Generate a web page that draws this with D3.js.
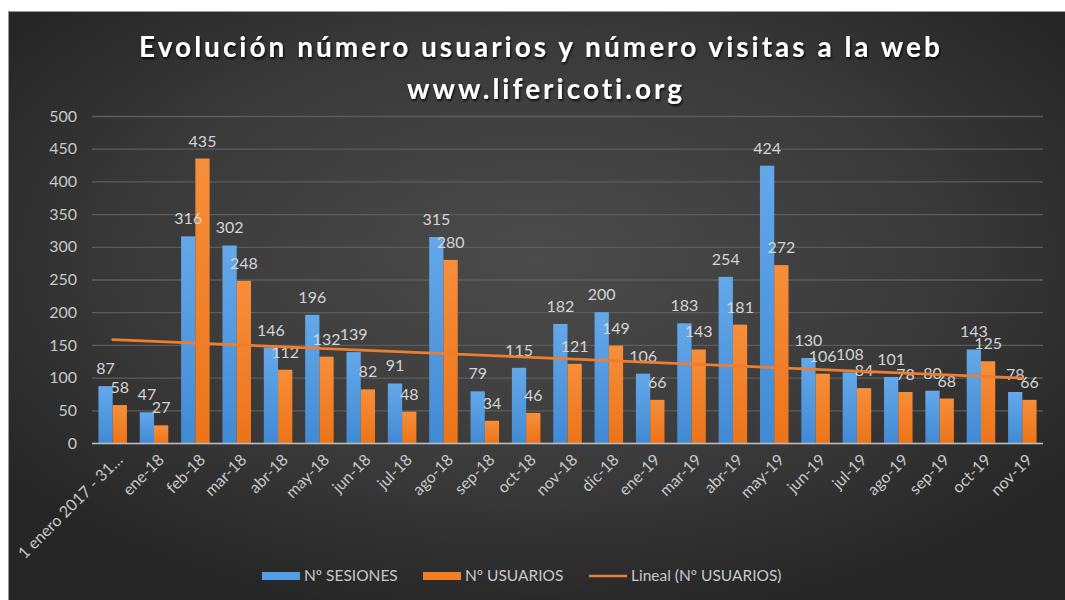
<!DOCTYPE html>
<html>
<head>
<meta charset="utf-8">
<script src="https://cdn.jsdelivr.net/npm/d3@7"></script>
<style>
    html, body { margin: 0; padding: 0; background: #ffffff; }
    svg { display: block; }
</style>
</head>
<body>
<div id="chart"></div>
<script>

// data

var categories = [ '1 enero 2017 - 31\u2026', 'ene-18', 'feb-18', 'mar-18', 'abr-18', 'may-18', 'jun-18',
    'jul-18', 'ago-18', 'sep-18', 'oct-18', 'nov-18', 'dic-18', 'ene-19', 'mar-19', 'abr-19',
    'may-19', 'jun-19', 'jul-19', 'ago-19', 'sep-19', 'oct-19', 'nov-19' ];

var sesiones = [ 87, 47, 316, 302, 146, 196, 139, 91, 315, 79, 115, 182, 200, 106, 183, 254, 424, 130, 108, 101, 80, 143, 78 ];

var usuarios = [ 58, 27, 435, 248, 112, 132, 82, 48, 280, 34, 46, 121, 149, 66, 143, 181, 272, 106, 84, 78, 68, 125, 66 ];

var yTicks = [ 0, 50, 100, 150, 200, 250, 300, 350, 400, 450, 500 ];

var seriesNames = [ 'N\u00BA SESIONES', 'N\u00BA USUARIOS' ];
var trendName = 'Lineal (N\u00BA USUARIOS)';

var width = 1065,
    height = 600,
    margin = { top: 116, right: 22, bottom: 157, left: 92 };

var font = 'Lato, "Open Sans", sans-serif';
var textColor = '#c8c8c8';
var blue = '#559de4',
    orange = '#f27f24';

var svg = d3.select('#chart').append('svg')
    .attr('width', width)
    .attr('height', height);

/* background */

var defs = svg.append('defs');

var bg = defs.append('radialGradient')
    .attr('id', 'bg')
    .attr('cx', '0.5').attr('cy', '0.42')
    .attr('r', '0.62');
bg.append('stop').attr('offset', '0').attr('stop-color', '#4b4b4b');
bg.append('stop').attr('offset', '0.6').attr('stop-color', '#3a3a3a');
bg.append('stop').attr('offset', '1').attr('stop-color', '#262626');

var gBlue = defs.append('linearGradient').attr('id', 'gblue')
    .attr('x1', 0).attr('y1', 0).attr('x2', 0).attr('y2', 1);
gBlue.append('stop').attr('offset', '0').attr('stop-color', '#64a8ea');
gBlue.append('stop').attr('offset', '1').attr('stop-color', '#418ad4');

var gOrange = defs.append('linearGradient').attr('id', 'gorange')
    .attr('x1', 0).attr('y1', 0).attr('x2', 0).attr('y2', 1);
gOrange.append('stop').attr('offset', '0').attr('stop-color', '#f78e3a');
gOrange.append('stop').attr('offset', '1').attr('stop-color', '#ec7419');

var shadow = defs.append('filter').attr('id', 'tshadow')
    .attr('x', '-5%').attr('y', '-20%').attr('width', '110%').attr('height', '150%');
shadow.append('feDropShadow')
    .attr('dx', 1).attr('dy', 2)
    .attr('stdDeviation', 1.2)
    .attr('flood-color', '#000')
    .attr('flood-opacity', 0.8);

svg.append('rect')
    .attr('x', 8).attr('y', 11)
    .attr('width', width - 8).attr('height', height - 11)
    .attr('fill', 'url(#bg)');

svg.append('path')
    .attr('d', 'M8.5,' + height + 'V11.5H' + width)
    .attr('fill', 'none')
    .attr('stroke', '#9a9a9a')
    .attr('stroke-width', 1);

/* title */

var title = svg.append('text')
    .attr('text-anchor', 'middle')
    .attr('fill', '#ffffff')
    .attr('filter', 'url(#tshadow)')
    .style('font-family', font)
    .style('font-weight', 'bold')
    .style('font-size', '28px')
    .style('letter-spacing', '3px');

title.append('tspan').attr('x', 541).attr('y', 57)
    .text('Evoluci\u00F3n n\u00FAmero usuarios y n\u00FAmero visitas a la web');
title.append('tspan').attr('x', 546).attr('y', 99)
    .text('www.lifericoti.org');

/* scales */

var x = d3.scaleBand()
    .domain( categories )
    .range([ margin.left, width - margin.right ])
    .paddingInner( 0.31 )
    .paddingOuter( 0.155 );

var x1 = d3.scaleBand()
    .domain([ 0, 1 ])
    .range([ 0, x.bandwidth() ]);

var y = d3.scaleLinear()
    .domain([ 0, 500 ])
    .range([ height - margin.bottom, margin.top ]);

/* grid + y axis */

var yAxis = svg.append('g')
    .attr('transform', 'translate(' + margin.left + ',0)')
    .call( d3.axisLeft( y ).tickValues( yTicks ).tickSize( -( width - margin.left - margin.right ) ).tickPadding( 15 ) );

yAxis.select('.domain').remove();
yAxis.selectAll('.tick line')
    .attr('stroke', '#5c5c5c')
    .attr('stroke-width', 1.3);
yAxis.selectAll('.tick text')
    .attr('fill', textColor)
    .style('font-family', font)
    .style('font-size', '16px');

/* bars */

var groups = svg.selectAll('.cat')
    .data( categories.map( function ( c, i ) { return { cat: c, values: [ sesiones[i], usuarios[i] ] }; } ) )
    .enter().append('g')
    .attr('class', 'cat')
    .attr('transform', function ( d ) { return 'translate(' + x( d.cat ) + ',0)'; });

groups.selectAll('rect')
    .data( function ( d ) { return d.values; } )
    .enter().append('rect')
    .attr('x', function ( d, i ) { return x1( i ); })
    .attr('y', function ( d ) { return y( d ); })
    .attr('width', x1.bandwidth())
    .attr('height', function ( d ) { return y( 0 ) - y( d ); })
    .attr('fill', function ( d, i ) { return i === 0 ? 'url(#gblue)' : 'url(#gorange)'; });

/* x axis baseline */

svg.append('line')
    .attr('x1', margin.left).attr('x2', width - margin.right)
    .attr('y1', y( 0 ) + 0.5).attr('y2', y( 0 ) + 0.5)
    .attr('stroke', '#bdbdbd')
    .attr('stroke-width', 1.6);

/* trend line (linear fit of usuarios) */

var n = usuarios.length;
var mx = d3.mean( usuarios, function ( d, i ) { return i + 1; } );
var my = d3.mean( usuarios );
var sxy = d3.sum( usuarios, function ( d, i ) { return ( i + 1 - mx ) * ( d - my ); } );
var sxx = d3.sum( usuarios, function ( d, i ) { return ( i + 1 - mx ) * ( i + 1 - mx ); } );
var slope = sxy / sxx;
var intercept = my - slope * mx;

var trend = categories.map( function ( c, i ) { return { cat: c, v: intercept + slope * ( i + 1 ) }; } );

var line = d3.line()
    .x( function ( d ) { return x( d.cat ) + x.bandwidth() / 2; } )
    .y( function ( d ) { return y( d.v ); } );

svg.append('path')
    .datum( [ trend[0], trend[ n - 1 ] ] )
    .attr('d', line)
    .attr('fill', 'none')
    .attr('stroke', '#ed7d31')
    .attr('stroke-width', 2.8)
    .attr('stroke-linecap', 'round');

/* value labels */

groups.selectAll('.lbl')
    .data( function ( d ) { return d.values; } )
    .enter().append('text')
    .attr('class', 'lbl')
    .attr('x', function ( d, i ) { return x1( i ) + x1.bandwidth() / 2; })
    .attr('y', function ( d ) { return y( d ) - 12; })
    .attr('text-anchor', 'middle')
    .attr('fill', '#d4d4d4')
    .style('font-family', font)
    .style('font-size', '16px')
    .text( function ( d ) { return d; } );

/* x labels */

svg.append('g').selectAll('text')
    .data( categories )
    .enter().append('text')
    .attr('transform', function ( d ) {
        return 'translate(' + ( x( d ) + x.bandwidth() / 2 + 7 ) + ',' + ( y( 0 ) + 14 ) + ') rotate(-45)';
    })
    .attr('text-anchor', 'end')
    .attr('dy', '0.35em')
    .attr('fill', textColor)
    .style('font-family', font)
    .style('font-size', '16px')
    .text( function ( d ) { return d; } );

/* legend */

var legend = svg.append('g')
    .attr('transform', 'translate(262,576)');

var items = [
    { name: seriesNames[0], type: 'rect', fill: blue, x: 0 },
    { name: seriesNames[1], type: 'rect', fill: orange, x: 161 },
    { name: trendName, type: 'line', fill: '#ed7d31', x: 327 }
];

items.forEach( function ( it ) {

    var g = legend.append('g').attr('transform', 'translate(' + it.x + ',0)');

    if ( it.type === 'rect' ) {
        g.append('rect')
            .attr('x', 0).attr('y', -4)
            .attr('width', 38).attr('height', 8)
            .attr('fill', it.fill);
    } else {
        g.append('line')
            .attr('x1', 0).attr('x2', 38)
            .attr('y1', 0).attr('y2', 0)
            .attr('stroke', it.fill)
            .attr('stroke-width', 2.5);
    }

    g.append('text')
        .attr('x', 42)
        .attr('dy', '0.35em')
        .attr('fill', textColor)
        .style('font-family', font)
        .style('font-size', '15.5px')
        .text( it.name );

});

</script>
</body>
</html>
